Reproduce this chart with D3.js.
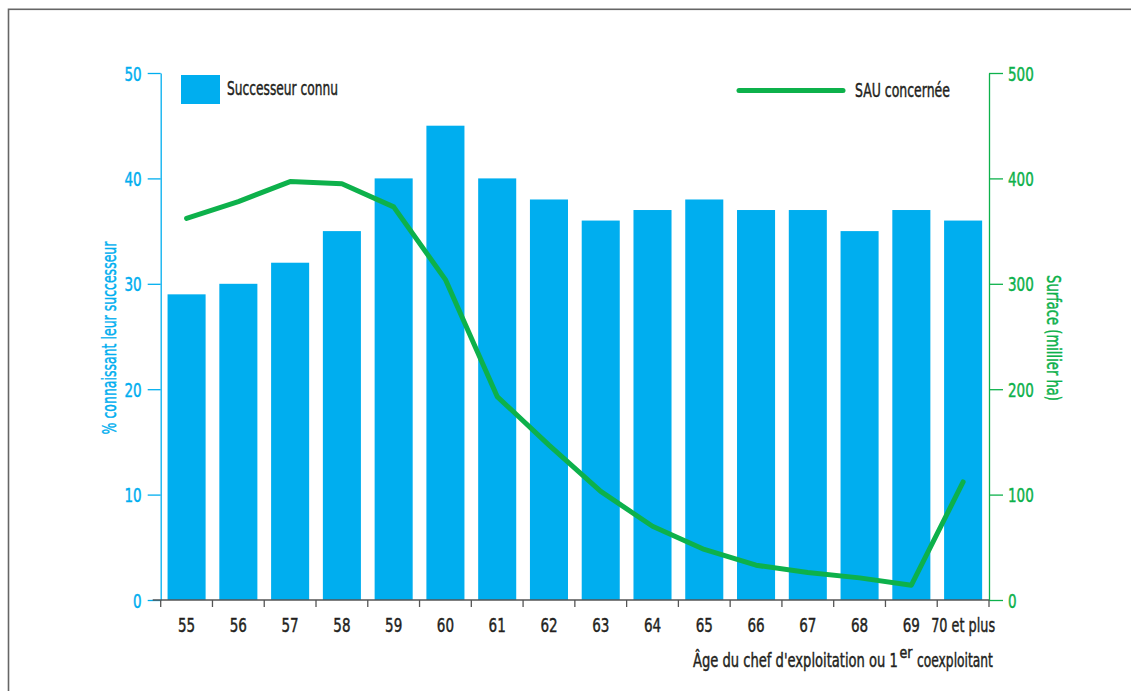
<!DOCTYPE html>
<html>
<head>
<meta charset="utf-8">
<script src="https://cdn.jsdelivr.net/npm/d3@7"></script>
<style>
  body { margin: 0; background: #fff; }
  svg text { font-family: "DejaVu Sans Condensed", "DejaVu Sans", sans-serif; stroke-width: 0.45px; }
</style>
</head>
<body>
<div id="chart"></div>
<script>
let ages = ["55", "56", "57", "58", "59", "60", "61", "62", "63", "64", "65", "66", "67", "68", "69", "70 et plus"]
let successeur = [29, 30, 32, 35, 40, 45, 40, 38, 36, 37, 38, 37, 37, 35, 37, 36]
let sau = [362, 378, 397, 395, 373, 304, 193, 147, 103, 70, 48, 33, 26, 21, 14, 112]
let leftTicks = [0, 10, 20, 30, 40, 50]
let rightTicks = [0, 100, 200, 300, 400, 500]

let width = 1131
let height = 691
let color_bar = "#00aeef"
let color_line = "#0db14b"
let color_text = "#231f20"
let margin = { left: 160.7, right: 142, top: 73, bottom: 91 }
let digit_w = 8.6

// squeeze a text horizontally to the condensed width of the original,
// anchored at (x, y), optionally rotated
function place(sel, x, y, w, rot) {
    sel.each(function() {
        let natural = this.getComputedTextLength()
        let s = w / natural
        d3.select(this)
            .attr("x", 0)
            .attr("y", 0)
            .attr("transform", "translate(" + x + "," + y + ")" + (rot ? " rotate(" + rot + ")" : "") + " scale(" + s + ",1)")
    })
}
function ink(sel, c) {
    sel.attr("fill", c).attr("stroke", c)
}

let svg = d3.select('#chart')
    .append('svg')
    .attr("width", width)
    .attr("height", height)

// frame (only top & left edges visible)
svg.append("rect")
    .attr("x", 8.5)
    .attr("y", 9.3)
    .attr("width", 1200)
    .attr("height", 800)
    .attr("fill", "none")
    .attr("stroke", "#666")
    .attr("stroke-width", 1.6)

let x = d3.scaleBand()
    .domain(ages)
    .range([margin.left, width - margin.right])
    .paddingInner(0.265)
    .paddingOuter(0.1325)
let yL = d3.scaleLinear()
    .domain([0, 50])
    .range([height - margin.bottom, margin.top])
let yR = d3.scaleLinear()
    .domain([0, 500])
    .range([height - margin.bottom, margin.top])

// bars
svg.append("g")
    .selectAll("rect")
    .data(successeur)
    .enter()
    .append("rect")
    .attr("x", (d, i) => x(ages[i]))
    .attr("y", d => yL(d))
    .attr("width", x.bandwidth())
    .attr("height", d => yL(0) - yL(d))
    .attr("fill", color_bar)

// left axis
let leftAxis = svg.append("g")
    .attr("transform", "translate(" + margin.left + ",0)")
    .call(d3.axisLeft(yL).tickValues(leftTicks).tickSize(13).tickPadding(6).tickSizeOuter(0))
leftAxis.select(".domain").attr("stroke", color_bar).attr("stroke-width", 1.3)
leftAxis.selectAll(".tick line").attr("stroke", color_bar).attr("stroke-width", 1.3)
leftAxis.selectAll(".tick text")
    .call(ink, color_bar)
    .style("font-size", "20px")
    .attr("dy", null)
    .each(function() {
        let t = d3.select(this)
        place(t, -19, 7, t.text().length * digit_w)
    })

// right axis
let xRight = width - margin.right
let rightAxis = svg.append("g")
    .attr("transform", "translate(" + xRight + ",0)")
    .call(d3.axisRight(yR).tickValues(rightTicks).tickSize(14).tickPadding(5).tickSizeOuter(0))
rightAxis.select(".domain").attr("stroke", color_line).attr("stroke-width", 1.3)
rightAxis.selectAll(".tick line").attr("stroke", color_line).attr("stroke-width", 1.3)
rightAxis.selectAll(".tick text")
    .call(ink, color_line)
    .style("font-size", "20px")
    .attr("dy", null)
    .each(function() {
        let t = d3.select(this)
        place(t, 19, 7, t.text().length * digit_w)
    })

// bottom axis
let bottomAxis = svg.append("g")
    .attr("transform", "translate(0," + yL(0) + ")")
bottomAxis.append("line")
    .attr("x1", margin.left - 8)
    .attr("x2", xRight)
    .attr("stroke", "#555")
    .attr("stroke-width", 1.3)
let tickXs = ages.map(a => x(a) - x.step() * x.paddingInner() / 2)
tickXs.push(xRight)
bottomAxis.selectAll(".btick")
    .data(tickXs)
    .enter()
    .append("line")
    .attr("class", "btick")
    .attr("x1", d => d)
    .attr("x2", d => d)
    .attr("y1", 0)
    .attr("y2", 7)
    .attr("stroke", "#555")
    .attr("stroke-width", 1.3)
bottomAxis.selectAll(".blabel")
    .data(ages)
    .enter()
    .append("text")
    .attr("class", "blabel")
    .attr("text-anchor", "middle")
    .call(ink, color_text)
    .style("font-size", "20px")
    .text(d => d)
    .each(function(d) {
        place(d3.select(this), x(d) + x.bandwidth() / 2, 32, d.length > 2 ? 64 : 2 * digit_w)
    })

// line
let line = d3.line()
    .x((d, i) => x(ages[i]) + x.bandwidth() / 2)
    .y(d => yR(d))
svg.append("path")
    .datum(sau)
    .attr("d", line)
    .attr("fill", "none")
    .attr("stroke", color_line)
    .attr("stroke-width", 5)
    .attr("stroke-linejoin", "round")
    .attr("stroke-linecap", "round")

// axis titles
svg.append("text")
    .attr("text-anchor", "middle")
    .call(ink, color_bar)
    .style("font-size", "20px")
    .text("% connaissant leur successeur")
    .call(place, 116, 338, 193, -90)
svg.append("text")
    .attr("text-anchor", "middle")
    .call(ink, color_line)
    .style("font-size", "20px")
    .text("Surface (millier ha)")
    .call(place, 1047, 338, 126, 90)

// x title, split so the superscript sits after the "1"
svg.append("text")
    .call(ink, color_text)
    .style("font-size", "20px")
    .text("Âge du chef d'exploitation ou 1")
    .call(place, 693, 667, 205)
svg.append("text")
    .call(ink, color_text)
    .style("font-size", "15px")
    .text("er")
    .call(place, 899.5, 658, 13)
svg.append("text")
    .call(ink, color_text)
    .style("font-size", "20px")
    .text("coexploitant")
    .call(place, 917, 667, 76)

// legend
svg.append("rect")
    .attr("x", 181)
    .attr("y", 75)
    .attr("width", 39)
    .attr("height", 29)
    .attr("fill", color_bar)
svg.append("text")
    .call(ink, color_text)
    .style("font-size", "20px")
    .text("Successeur connu")
    .call(place, 227, 95, 111)
svg.append("line")
    .attr("x1", 739)
    .attr("x2", 843)
    .attr("y1", 90.5)
    .attr("y2", 90.5)
    .attr("stroke", color_line)
    .attr("stroke-width", 5)
    .attr("stroke-linecap", "round")
svg.append("text")
    .call(ink, color_text)
    .style("font-size", "20px")
    .text("SAU concernée")
    .call(place, 855, 97, 95)
</script>
</body>
</html>
